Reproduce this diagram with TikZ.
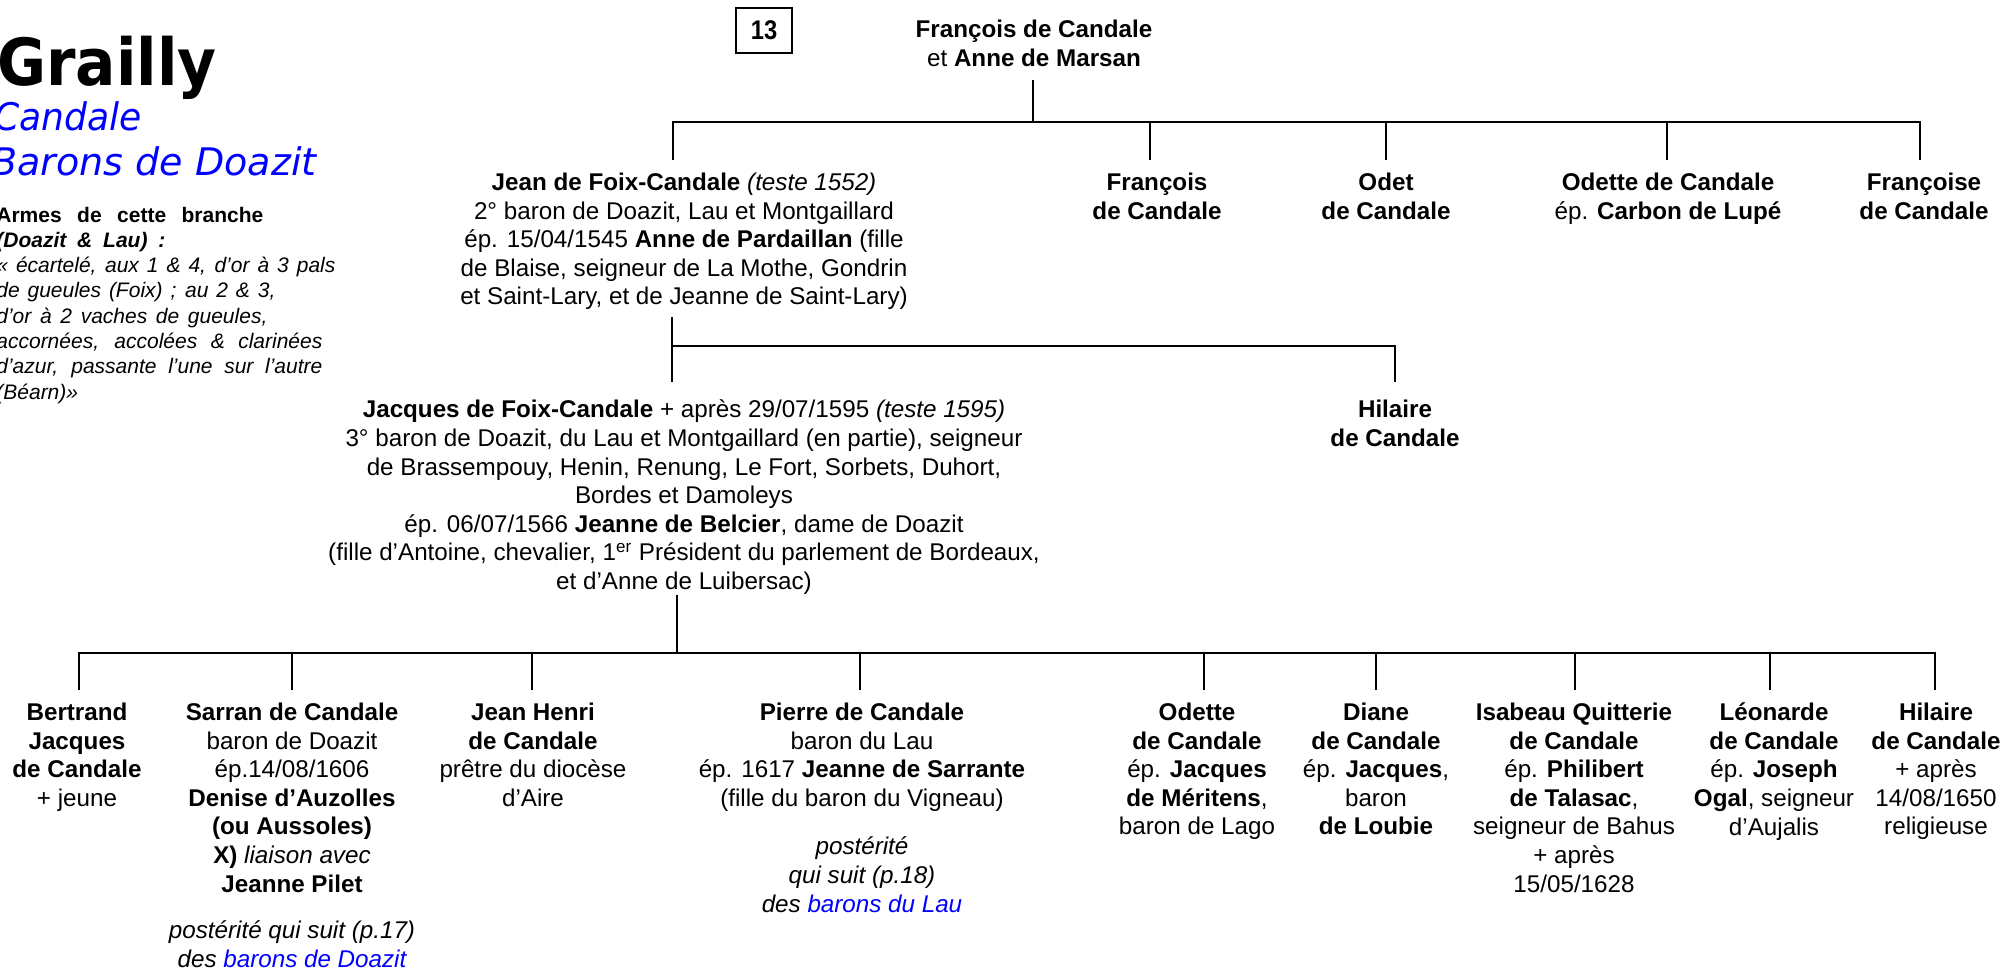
\documentclass[tikz,border=0pt]{standalone}
\usepackage{fontspec}
\setmainfont{Liberation Sans}
\newfontfamily\dejavu{DejaVu Sans}
\definecolor{tblue}{RGB}{0,0,255}
\newcommand\fs{\fontsize{12.1}{14.3}\selectfont}
\newcommand\fa{\fontsize{10.5}{12.65}\selectfont}
\begin{document}
\begin{tikzpicture}[x=0.5pt,y=-0.5pt,
  person/.style={inner sep=0pt,outer sep=0pt,anchor=north,align=center,font=\fs,execute at begin node=\strut},
  armes/.style={inner sep=0pt,anchor=base west,font=\fa},
  title/.style={inner sep=0pt,anchor=base east},
  bar/.style={line width=1.4pt,line cap=rect},
  sbar/.style={line width=1pt,line cap=rect},
  conn/.style={line width=1pt}]
\useasboundingbox (0,0) rectangle (2001,969);
\fill[white] (0,0) rectangle (2001,969);

% ---------- title block ----------
\node[title,font=\dejavu\bfseries\fontsize{32.5}{39}\selectfont] (ttl) at (217,85) {\scalebox{0.92}[1]{Grailly}};
\node[title,text=tblue,font=\dejavu\itshape\fontsize{19}{23}\selectfont] (sub1) at (142,130) {\scalebox{0.95}[1]{Candale}};
\node[title,text=tblue,font=\dejavu\itshape\fontsize{19}{23}\selectfont] (sub2) at (317,175) {\scalebox{1.0}[1]{Barons de Doazit}};

\node[armes] (a1) at (-4,222) {\makebox[133.5pt][s]{\bfseries Armes de cette branche}};
\node[armes] (a2) at (-4,247.3) {\makebox[84.5pt][s]{\bfseries\itshape (Doazit \& Lau) :}};
\node[armes] (a3) at (-4,272.6) {\makebox[169.5pt][s]{\itshape « écartelé, aux 1 \& 4, d’or à 3 pals}};
\node[armes] (a4) at (-4,297.9) {\makebox[139.5pt][s]{\itshape de gueules (Foix) ; au 2 \& 3,}};
\node[armes] (a5) at (-4,323.2) {\makebox[135.5pt][s]{\itshape d’or à 2 vaches de gueules,}};
\node[armes] (a6) at (-4,348.5) {\makebox[163pt][s]{\itshape accornées, accolées \& clarinées}};
\node[armes] (a7) at (-4,373.8) {\makebox[163pt][s]{\itshape d’azur, passante l’une sur l’autre}};
\node[armes] (a8) at (-4,399.1) {\itshape (Béarn)»};

% ---------- page number ----------
\node[draw,line width=1pt,minimum width=28pt,minimum height=22.5pt,inner sep=0pt,
      font=\bfseries\fontsize{13.5}{15}\selectfont] (num) at (764,30.5) {\scalebox{0.88}[1]{13}};

% ---------- generation 1 ----------
\node[person] (parent) at (1034,20) {\textbf{François de Candale}\\et \textbf{Anne de Marsan}};

% ---------- generation 2 ----------
\node[person] (jean) at (684,173) {\textbf{Jean de Foix-Candale} \textit{(teste 1552)}\\
  2° baron de Doazit, Lau et Montgaillard\\
  ép. 15/04/1545 \textbf{Anne de Pardaillan} (fille\\
  de Blaise, seigneur de La Mothe, Gondrin\\
  et Saint-Lary, et de Jeanne de Saint-Lary)};
\node[person] (fran) at (1157,173) {\textbf{François}\\\textbf{de Candale}};
\node[person] (odet) at (1386,173) {\textbf{Odet}\\\textbf{de Candale}};
\node[person] (odette) at (1668,173) {\textbf{Odette de Candale}\\ép. \textbf{Carbon de Lupé}};
\node[person] (franc) at (1924,173) {\textbf{Françoise}\\\textbf{de Candale}};

% ---------- generation 3 ----------
\node[person] (jacques) at (684,400) {\textbf{Jacques de Foix-Candale} + après 29/07/1595 \textit{(teste 1595)}\\
  3° baron de Doazit, du Lau et Montgaillard (en partie), seigneur\\
  de Brassempouy, Henin, Renung, Le Fort, Sorbets, Duhort,\\
  Bordes et Damoleys\\
  ép. 06/07/1566 \textbf{Jeanne de Belcier}, dame de Doazit\\
  (fille d’Antoine, chevalier, 1\textsuperscript{er} Président du parlement de Bordeaux,\\
  et d’Anne de Luibersac)};
\node[person] (hil) at (1395,400) {\textbf{Hilaire}\\\textbf{de Candale}};

% ---------- generation 4 ----------
\node[person] (bert) at (77,703) {\textbf{Bertrand}\\\textbf{Jacques}\\\textbf{de Candale}\\+ jeune};
\node[person] (sarran) at (292,703) {\textbf{Sarran de Candale}\\baron de Doazit\\ép.14/08/1606\\
  \textbf{Denise d’Auzolles}\\\textbf{(ou Aussoles)}\\\textbf{X)} \textit{liaison avec}\\\textbf{Jeanne Pilet}};
\node[person] (sarranp) at (292,921) {\textit{postérité qui suit (p.17)}\\\textit{des \textcolor{tblue}{barons de Doazit}}};
\node[person] (jh) at (533,703) {\textbf{Jean Henri}\\\textbf{de Candale}\\prêtre du diocèse\\d’Aire};
\node[person] (pierre) at (862,703) {\textbf{Pierre de Candale}\\baron du Lau\\ép. 1617 \textbf{Jeanne de Sarrante}\\(fille du baron du Vigneau)};
\node[person] (pierrep) at (862,837) {\textit{postérité}\\\textit{qui suit (p.18)}\\\textit{des \textcolor{tblue}{barons du Lau}}};
\node[person] (odette2) at (1197,703) {\textbf{Odette}\\\textbf{de Candale}\\ép. \textbf{Jacques}\\\textbf{de Méritens},\\baron de Lago};
\node[person] (diane) at (1376,703) {\textbf{Diane}\\\textbf{de Candale}\\ép. \textbf{Jacques},\\baron\\\textbf{de Loubie}};
\node[person] (isab) at (1574,703) {\textbf{Isabeau Quitterie}\\\textbf{de Candale}\\ép. \textbf{Philibert}\\\textbf{de Talasac},\\seigneur de Bahus\\+ après\\15/05/1628};
\node[person] (leon) at (1774,703) {\textbf{Léonarde}\\\textbf{de Candale}\\ép. \textbf{Joseph}\\\textbf{Ogal}, seigneur\\d’Aujalis};
\node[person] (hil2) at (1936,703) {\textbf{Hilaire}\\\textbf{de Candale}\\+ après\\14/08/1650\\religieuse};

% ---------- connectors: top family ----------
\coordinate (p0) at (1033,80);
\coordinate (p1) at (1033,122);
\coordinate (tL) at (673,122);
\coordinate (tR) at (1920,122);
\draw[conn] (p0) -- (p1);
\draw[bar] (tL) -- (tR);
\coordinate (d1) at (673,160);
\coordinate (d2t) at (1150,122) ; \coordinate (d2) at (1150,160);
\coordinate (d3t) at (1386,122) ; \coordinate (d3) at (1386,160);
\coordinate (d4t) at (1667,122) ; \coordinate (d4) at (1667,160);
\coordinate (d5) at (1920,160);
\draw[conn] (tL) -- (d1);
\draw[conn] (d2t) -- (d2);
\draw[conn] (d3t) -- (d3);
\draw[conn] (d4t) -- (d4);
\draw[conn] (tR) -- (d5);

% ---------- connectors: Jean's family ----------
\coordinate (j0) at (672,317);
\coordinate (j1) at (672,346);
\coordinate (j2) at (672,382);
\coordinate (h1) at (1395,346);
\coordinate (h2) at (1395,382);
\draw[conn] (j0) -- (j2);
\draw[sbar] (j1) -- (h1);
\draw[conn] (h1) -- (h2);

% ---------- connectors: Jacques's family ----------
\coordinate (q0) at (677,595);
\coordinate (q1) at (677,653);
\coordinate (bL) at (79,653);
\coordinate (bR) at (1935,653);
\draw[conn] (q0) -- (q1);
\draw[sbar] (bL) -- (bR);
\foreach \x/\n in {79/c1,292/c2,532/c3,860/c4,1204/c5,1376/c6,1575/c7,1770/c8,1935/c9}{
  \coordinate (\n t) at (\x,653);
  \coordinate (\n b) at (\x,690);
  \draw[conn] (\n t) -- (\n b);
}
\end{tikzpicture}
\end{document}
